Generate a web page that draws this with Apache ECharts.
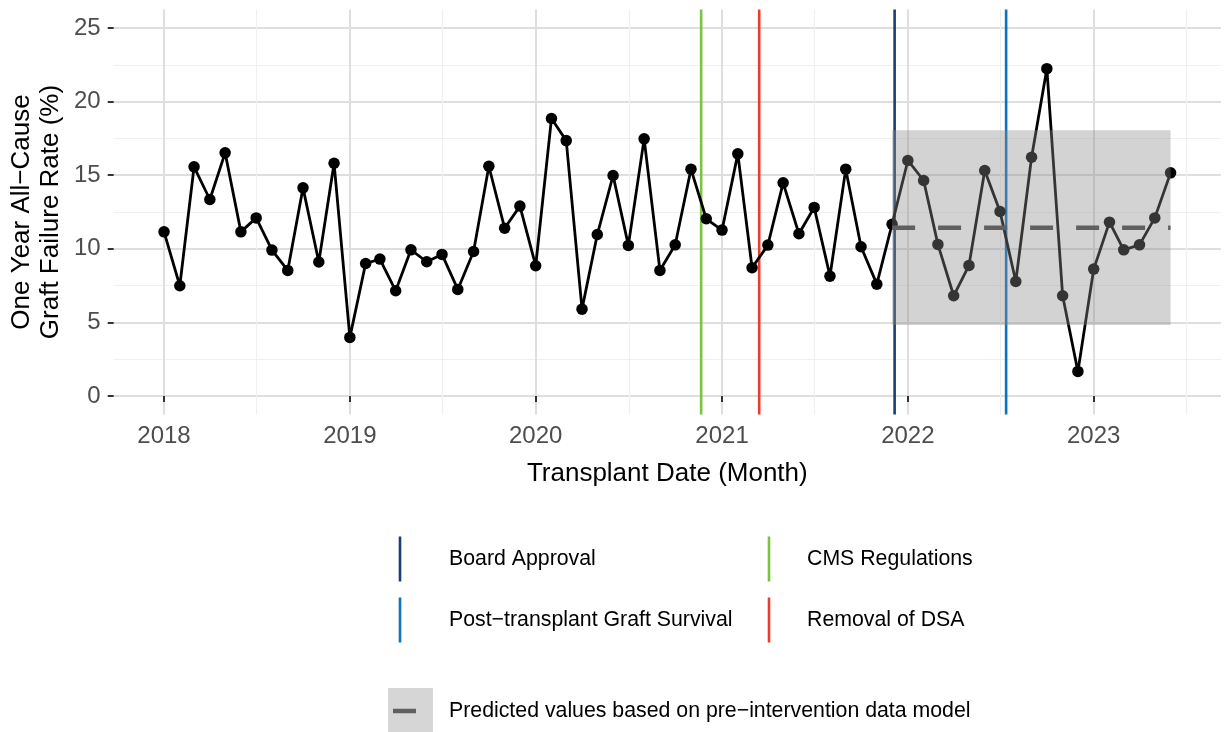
<!DOCTYPE html>
<html><head><meta charset="utf-8">
<script src="https://cdn.jsdelivr.net/npm/echarts@6/dist/echarts.min.js"></script>
<style>html,body{margin:0;padding:0;background:#fff}#c{width:1225px;height:732px}</style>
</head><body><div id="c"></div>
<script>
// ---------- data ----------
const months = [
  '2018-01','2018-02','2018-03','2018-04','2018-05','2018-06','2018-07','2018-08','2018-09','2018-10','2018-11','2018-12',
  '2019-01','2019-02','2019-03','2019-04','2019-05','2019-06','2019-07','2019-08','2019-09','2019-10','2019-11','2019-12',
  '2020-01','2020-02','2020-03','2020-04','2020-05','2020-06','2020-07','2020-08','2020-09','2020-10','2020-11','2020-12',
  '2021-01','2021-02','2021-03','2021-04','2021-05','2021-06','2021-07','2021-08','2021-09','2021-10','2021-11','2021-12',
  '2022-01','2022-02','2022-03','2022-04','2022-05','2022-06','2022-07','2022-08','2022-09','2022-10','2022-11','2022-12',
  '2023-01','2023-02','2023-03','2023-04','2023-05','2023-06'
];
const rates = [
  11.15, 7.49, 15.57, 13.35, 16.52, 11.15, 12.10, 9.91, 8.53, 14.14, 9.10, 15.81,
  3.98, 9.00, 9.30, 7.15, 9.93, 9.12, 9.62, 7.24, 9.82, 15.61, 11.40, 12.90,
  8.85, 18.85, 17.35, 5.90, 10.97, 14.98, 10.23, 17.47, 8.53, 10.27, 15.41, 12.04,
  11.27, 16.45, 8.71, 10.25, 14.48, 11.02, 12.81, 8.14, 15.41, 10.14, 7.60, 11.67,
  16.00, 14.64, 10.30, 6.81, 8.87, 15.32, 12.53, 7.78, 16.22, 22.24, 6.81, 1.67,
  8.62, 11.81, 9.93, 10.27, 12.10, 15.16
];
const yTicks = [0, 5, 10, 15, 20, 25];
const yMinorTicks = [2.5, 7.5, 12.5, 17.5, 22.5];
const yLimits = [0, 25];
const xTickYears = [2018, 2019, 2020, 2021, 2022, 2023];
const xMinorDates = ['2018-07-02', '2019-07-02', '2020-07-02', '2021-07-02', '2022-07-02', '2023-07-02'];
const interventionNames = ['Board Approval', 'Post\u2212transplant Graft Survival', 'CMS Regulations', 'Removal of DSA'];
const interventionDates = ['2021-12-06', '2022-07-13', '2020-11-21', '2021-03-15'];
const interventionColors = ['#173f6f', '#0b74bd', '#7dc242', '#ef3b2c'];
const predPeriod = ['2021-12-01', '2023-06-01'];
const predValue = [11.43];
const predInterval = [4.82, 18.05];
const predLabel = 'Predicted values based on pre\u2212intervention data model';

// ---------- helpers ----------
const ts = s => { const p = s.split('-').map(Number); return Date.UTC(p[0], p[1] - 1, p[2] || 1); };
const FONT = "'Liberation Sans', Arial, Helvetica, sans-serif";
const t0 = ts(months[0]), t1 = ts(months[months.length - 1]);
const span = t1 - t0;
const xMin = t0 - 0.05 * span, xMax = t1 + 0.05 * span;
const ySpan = yLimits[1] - yLimits[0];
const yMin = yLimits[0] - 0.05 * ySpan, yMax = yLimits[1] + 0.05 * ySpan;
const yearTs = xTickYears.map(y => Date.UTC(y, 0, 1));
const minorTs = xMinorDates.map(ts);

const chart = echarts.init(document.getElementById('c'), null, { renderer: 'canvas' });

const majorLine = { color: '#dedede', width: 2 };
const minorLine = { color: '#f0f0f0', width: 1.2 };

const option = {
  animation: false,
  backgroundColor: '#fff',
  grid: [{ left: 113.7, right: 4.1, top: 9.6, height: 404.8 }],
  xAxis: [
    {
      type: 'value', min: xMin, max: xMax, gridIndex: 0,
      axisLine: { show: false },
      axisTick: { show: true, length: 6, lineStyle: { color: '#333', width: 2 }, customValues: yearTs },
      axisLabel: { customValues: yearTs, formatter: v => String(new Date(v).getUTCFullYear()),
        fontSize: 24, color: '#4d4d4d', fontFamily: FONT, margin: 10 },
      splitLine: { show: true, lineStyle: majorLine }
    },
    {
      type: 'value', min: xMin, max: xMax, gridIndex: 0, position: 'bottom',
      axisLine: { show: false },
      axisTick: { show: false, customValues: minorTs },
      axisLabel: { show: false, customValues: minorTs },
      splitLine: { show: true, lineStyle: minorLine }
    }
  ],
  yAxis: [
    {
      type: 'value', min: yMin, max: yMax, gridIndex: 0,
      axisLine: { show: false },
      axisTick: { show: true, length: 6, lineStyle: { color: '#333', width: 2 }, customValues: yTicks },
      axisLabel: { customValues: yTicks, fontSize: 24, color: '#4d4d4d', fontFamily: FONT, margin: 13 },
      splitLine: { show: true, lineStyle: majorLine }
    },
    {
      type: 'value', min: yMin, max: yMax, gridIndex: 0, position: 'left',
      axisLine: { show: false },
      axisTick: { show: false, customValues: yMinorTicks },
      axisLabel: { show: false, customValues: yMinorTicks },
      splitLine: { show: true, lineStyle: minorLine }
    }
  ],
  series: [
    {
      type: 'custom', name: 'interventions', z: 1, silent: true,
      xAxisIndex: 0, yAxisIndex: 0,
      data: interventionDates.map((d, i) => [ts(d), 0, i]),
      encode: { x: 0, y: 1 },
      renderItem: (params, api) => {
        const x = api.coord([api.value(0), 0])[0];
        const cs = params.coordSys;
        return {
          type: 'line',
          shape: { x1: x, y1: cs.y, x2: x, y2: cs.y + cs.height },
          style: { stroke: interventionColors[api.value(2)], lineWidth: 2.6 }
        };
      }
    },
    {
      type: 'line', name: 'rate', z: 2,
      xAxisIndex: 0, yAxisIndex: 0,
      data: months.map((m, i) => [ts(m), rates[i]]),
      symbol: 'circle', symbolSize: 11.5, showSymbol: true,
      lineStyle: { color: '#000', width: 2.8 },
      itemStyle: { color: '#000' }
    },
    {
      type: 'custom', name: 'band', z: 3, silent: true,
      xAxisIndex: 0, yAxisIndex: 0,
      data: [[ts(predPeriod[0]), predInterval[0], ts(predPeriod[1]), predInterval[1]]],
      encode: { x: [0, 2], y: [1, 3] },
      renderItem: (params, api) => {
        const p1 = api.coord([api.value(0), api.value(3)]);
        const p2 = api.coord([api.value(2), api.value(1)]);
        return {
          type: 'rect',
          shape: { x: p1[0], y: p1[1], width: p2[0] - p1[0], height: p2[1] - p1[1] },
          style: { fill: 'rgba(140,140,140,0.38)' }
        };
      }
    },
    {
      type: 'line', name: 'predicted', z: 4,
      xAxisIndex: 0, yAxisIndex: 0,
      data: predPeriod.map(d => [ts(d), predValue[0]]),
      symbol: 'none',
      lineStyle: { color: '#606060', width: 4.5, type: [23, 23] }
    }
  ],
  graphic: [
    { type: 'text', x: 667.3, y: 461, style: { text: 'Transplant Date (Month)', font: '26px ' + FONT, fill: '#000', align: 'center', verticalAlign: 'top' } },
    { type: 'text', x: 36, y: 212, rotation: Math.PI / 2,
      style: { text: 'One Year All\u2212Cause\nGraft Failure Rate (%)', font: '26px ' + FONT, fill: '#000', align: 'center', verticalAlign: 'middle', lineHeight: 29 } }
  ]
};

// legend (custom drawn like ggplot keys)
const legendPos = [
  { lx: 400, tx: 449, cy: 559 },
  { lx: 400, tx: 449, cy: 620 },
  { lx: 769, tx: 807, cy: 559 },
  { lx: 769, tx: 807, cy: 620 }
];
interventionNames.forEach((n, i) => {
  const p = legendPos[i];
  option.graphic.push({ type: 'line', shape: { x1: p.lx, y1: p.cy - 22.5, x2: p.lx, y2: p.cy + 22.5 },
    style: { stroke: interventionColors[i], lineWidth: 2.6 } });
  option.graphic.push({ type: 'text', x: p.tx, y: p.cy,
    style: { text: n, font: '21.3px ' + FONT, fill: '#000', align: 'left', verticalAlign: 'middle' } });
});
option.graphic.push({ type: 'rect', shape: { x: 388, y: 688, width: 45, height: 45 }, style: { fill: '#d6d6d6' } });
option.graphic.push({ type: 'line', shape: { x1: 393, y1: 711, x2: 416, y2: 711 }, style: { stroke: '#606060', lineWidth: 4.5 } });
option.graphic.push({ type: 'text', x: 449, y: 711,
  style: { text: predLabel, font: '21.3px ' + FONT, fill: '#000', align: 'left', verticalAlign: 'middle' } });

chart.setOption(option);
</script>
</body></html>
